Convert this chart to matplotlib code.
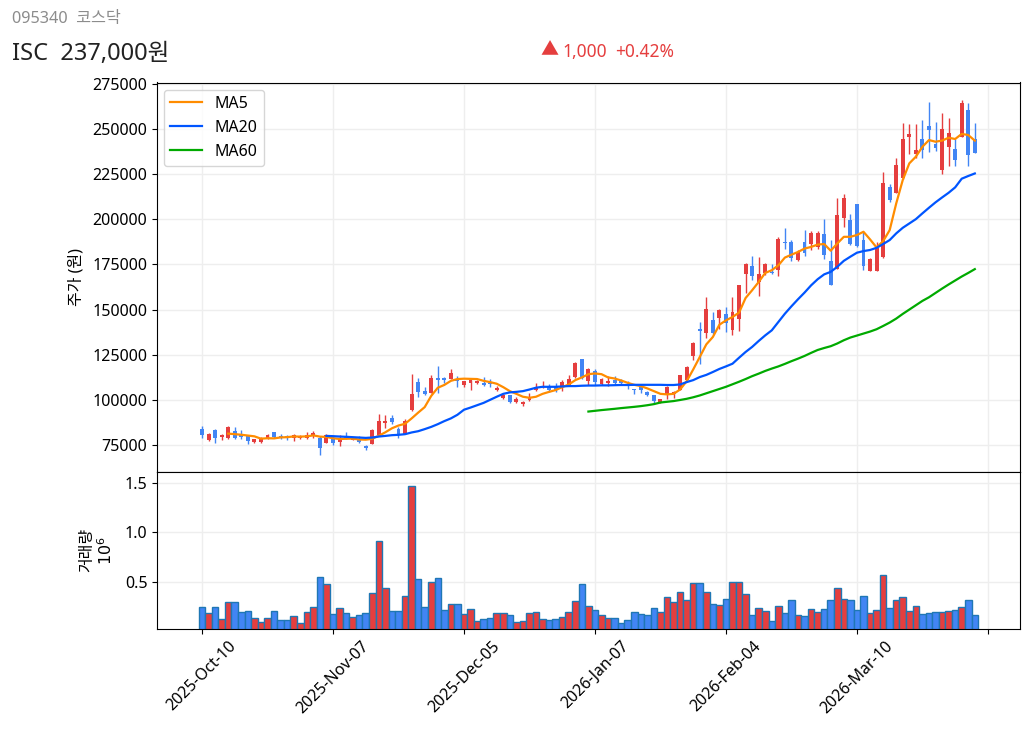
import matplotlib
matplotlib.use("Agg")
import matplotlib.pyplot as plt # plotting

plt.rcParams['font.family'] = ['Noto Sans', 'Noto Sans CJK KR', 'DejaVu Sans']

# daily prices
opens = [83950, 77800, 83400, 79500, 79100, 82650, 80400, 80000, 76700, 76700,
         79100, 82100, 79850, 79850, 79100, 78900, 79100, 79850, 79100, 76100,
         78400, 76700, 79850, 78000, 78400, 74450, 75750, 80600, 86900, 89900,
         83750, 81150, 94600, 109700, 104700, 103900, 112000, 112000, 111400, 111750,
         107950, 109050, 109050, 109400, 109400, 105700, 100750, 102400, 98700, 97600,
         99800, 105350, 107000, 107600, 107200, 107200, 108150, 112750, 122350, 110350,
         116000, 108500, 109050, 110900, 110350, 108900, 106100, 107600, 104250, 102750,
         98900, 103100, 103300, 105700, 110900, 124250, 139000, 137200, 144000, 145300,
         147700, 138500, 144600, 169700, 174300, 165300, 170500, 170800, 171900, 187600,
         187600, 177300, 187600, 186200, 184700, 191700, 176700, 172400, 200900, 199400,
         208300, 188500, 171300, 171300, 179200, 217900, 214700, 222700, 245800, 236200,
         244300, 251700, 241700, 227300, 240200, 238800, 245800, 260600, 244300]
highs = [85250, 81500, 83750, 81150, 85250, 84900, 83200, 80600, 78400, 79300,
         81150, 82100, 81150, 80600, 81150, 80600, 81900, 82650, 79850, 80800,
         79850, 80400, 81900, 79650, 79850, 74800, 83750, 92150, 91800, 91400,
         84900, 89200, 114200, 112300, 107300, 113800, 118500, 112900, 117000, 113250,
         110500, 110900, 110900, 112750, 111650, 107600, 103100, 102800, 101300, 99450,
         103900, 109400, 110150, 108700, 109400, 110900, 114000, 120900, 122700, 117700,
         116800, 112200, 113100, 113100, 111250, 110350, 106100, 108500, 105150, 102750,
         100550, 107600, 105150, 114000, 118650, 132000, 143100, 157000, 148650, 150500,
         151400, 157000, 163800, 176000, 179900, 179100, 176000, 175500, 190200, 195400,
         188800, 182800, 194300, 193600, 193600, 200400, 188800, 211600, 213800, 202700,
         208300, 193100, 178700, 187600, 226000, 219300, 233800, 253200, 252600, 252600,
         255000, 264800, 253700, 258700, 256000, 244300, 266100, 264300, 253200]
lows = [79100, 77400, 76300, 78000, 78550, 78550, 78500, 75550, 75900, 75900,
        78550, 79100, 78550, 77800, 76900, 78550, 78400, 79100, 69600, 76100,
        74800, 74250, 78550, 77600, 76300, 72200, 75750, 80600, 84300, 86750,
        79100, 81150, 93600, 101500, 102600, 103500, 103900, 109100, 111400, 107300,
        107000, 105700, 108500, 107750, 107200, 105000, 100550, 98300, 98000, 96700,
        99100, 104800, 106500, 104400, 104250, 104800, 107600, 112200, 111800, 107950,
        108100, 108100, 107600, 108300, 108900, 106100, 103300, 103900, 102000, 98300,
        98000, 100200, 101100, 105350, 110350, 122000, 120000, 134400, 136650, 139400,
        137600, 136100, 138100, 159400, 166600, 157500, 169000, 169900, 168600, 183600,
        177000, 176900, 179900, 182800, 183400, 178200, 163700, 172400, 195900, 185700,
        184800, 171700, 171300, 171300, 178300, 209700, 214400, 222100, 236200, 233800,
        233800, 237500, 238000, 224900, 229500, 229700, 245800, 229500, 236500]
closes = [80600, 81150, 79100, 80600, 84900, 79100, 79500, 76900, 78400, 78400,
          80400, 79500, 79100, 79100, 80400, 79850, 80400, 81700, 73500, 80400,
          76100, 78200, 79100, 78550, 76700, 73500, 83400, 88250, 88250, 87700,
          81150, 88250, 103000, 104300, 103000, 112300, 110800, 110800, 114700, 110250,
          110150, 110900, 110500, 108100, 108700, 106800, 102800, 98700, 100350, 98900,
          101650, 107000, 107600, 105350, 105700, 109600, 111250, 120500, 112200, 116800,
          109800, 111250, 110350, 109050, 109400, 107950, 105350, 105350, 102400, 99100,
          100200, 107000, 104400, 113500, 118300, 131650, 138100, 150500, 137000, 149600,
          142700, 148800, 163400, 175500, 168600, 169500, 175500, 170300, 188900, 186900,
          178800, 181900, 181500, 192600, 192600, 180300, 163700, 202200, 211600, 186100,
          185300, 174300, 177800, 184200, 220100, 210700, 229900, 244300, 247300, 238400,
          238400, 249500, 239500, 250000, 247600, 232800, 264300, 235600, 237000]
volumes = [0.25, 0.19, 0.25, 0.13, 0.30, 0.30, 0.20, 0.21, 0.14, 0.10,
           0.14, 0.21, 0.12, 0.12, 0.16, 0.09, 0.20, 0.25, 0.55, 0.48,
           0.18, 0.24, 0.19, 0.15, 0.17, 0.19, 0.39, 0.91, 0.44, 0.21,
           0.21, 0.36, 1.47, 0.53, 0.25, 0.50, 0.54, 0.22, 0.28, 0.28,
           0.18, 0.23, 0.11, 0.13, 0.14, 0.19, 0.19, 0.17, 0.10, 0.11,
           0.19, 0.20, 0.13, 0.12, 0.13, 0.15, 0.20, 0.31, 0.48, 0.26,
           0.22, 0.17, 0.14, 0.14, 0.09, 0.12, 0.20, 0.18, 0.17, 0.24,
           0.20, 0.35, 0.30, 0.40, 0.32, 0.49, 0.49, 0.40, 0.28, 0.27,
           0.33, 0.50, 0.50, 0.38, 0.17, 0.24, 0.21, 0.11, 0.26, 0.19,
           0.32, 0.17, 0.16, 0.23, 0.20, 0.23, 0.32, 0.44, 0.33, 0.32,
           0.22, 0.36, 0.19, 0.22, 0.57, 0.24, 0.32, 0.35, 0.21, 0.26,
           0.18, 0.19, 0.20, 0.20, 0.21, 0.22, 0.25, 0.32, 0.17]

# moving averages, first value of each sits at index 4, 19 and 59
ma5 = [81270, 80970, 80640, 80200, 79760, 78460, 78720, 78620, 79160, 79300,
       79700, 79590, 79750, 80290, 79600, 79400, 78700, 78300, 78400, 78500,
       78000, 77900, 78400, 80080, 82020, 84220, 85750, 86720, 89670, 92880,
       95940, 102170, 106680, 108240, 110500, 111500, 111700, 111600, 111500, 110500,
       109800, 108900, 107000, 104800, 103300, 101700, 101100, 101700, 103300, 104400,
       105400, 107000, 108500, 110900, 112400, 114200, 114600, 114200, 112400, 111800,
       110700, 109400, 108300, 107600, 106300, 104800, 103300, 103000, 103300, 105700,
       110300, 116800, 123700, 130700, 134800, 141600, 144000, 145900, 148300, 156400,
       160700, 165300, 170300, 171800, 174500, 178800, 180400, 181900, 183800, 184700,
       186000, 186300, 182600, 186600, 190300, 190300, 191300, 193100, 188900, 184400,
       187900, 194000, 208800, 221800, 231000, 234700, 240200, 243900, 243000, 243600,
       245200, 244500, 247300, 246700, 243600]
ma20 = [80000, 79850, 79650, 79500, 79300, 79100, 78900, 79100, 79650, 80000,
        80400, 80600, 80950, 81900, 82600, 83750, 85000, 86500, 88200, 89700,
        91700, 94500, 95700, 97000, 98300, 100000, 101700, 103300, 104100, 104400,
        104800, 105700, 106700, 107200, 107200, 107200, 107400, 107600, 107600, 107800,
        107900, 107900, 108000, 108000, 108100, 108200, 108200, 108300, 108300, 108300,
        108300, 108300, 108200, 108200, 108500, 109800, 110900, 112600, 113800, 115400,
        117100, 118500, 120000, 123300, 126500, 129300, 132600, 135700, 138500, 143100,
        147700, 151800, 155700, 159400, 163400, 166800, 169500, 170900, 173700, 177000,
        179300, 181500, 182400, 183000, 184200, 186300, 188500, 192200, 195300, 197700,
        200100, 203300, 206400, 209400, 212100, 214700, 217700, 222500, 224000, 225400]
ma60 = [93500, 93900, 94300, 94650, 95000, 95400, 95750, 96100, 96500, 97000,
        97600, 98500, 98900, 99300, 99900, 100550, 101400, 102400, 103600, 104800,
        106000, 107200, 108600, 110000, 111500, 113100, 114500, 116000, 117300, 118500,
        119900, 121400, 122800, 124300, 126000, 127600, 128700, 129700, 131200, 133000,
        134500, 135600, 136700, 137800, 139100, 140900, 142800, 145000, 147600, 150000,
        152400, 154800, 156800, 159200, 161600, 163900, 166100, 168300, 170300, 172400]

tickPositions = [0, 20, 40, 60, 80, 100, 120]
tickLabels = ['2025-Oct-10', '2025-Nov-07', '2025-Dec-05', '2026-Jan-07', '2026-Feb-04', '2026-Mar-10', '']

redColor = '#E53E3E'
blueColor = '#4285F4'
figW = 1032
figH = 733


def makeAxes(fig, top, bottom):
    # axes box from pixel rows
    return fig.add_axes([156.5 / figW, 1 - bottom / figH, (1020 - 156.5) / figW, (bottom - top) / figH])


def main():
    fig = plt.figure(figsize=(figW / 100, figH / 100), dpi=100)
    price = makeAxes(fig, 82.5, 472)
    volume = makeAxes(fig, 472, 628.5)

    days = range(len(closes))
    colors = [redColor if c >= o else blueColor for o, c in zip(opens, closes)]

    # candles
    price.vlines(days, lows, highs, colors=colors, linewidth=1, zorder=2)
    bodies = [abs(c - o) for o, c in zip(opens, closes)]
    bases = [min(o, c) for o, c in zip(opens, closes)]
    price.bar(days, bodies, 0.6, bottom=bases, color=colors, zorder=2)

    price.plot(range(4, 4 + len(ma5)), ma5, color='#FF8C00', linewidth=1.6, label='MA5', zorder=3)
    price.plot(range(19, 19 + len(ma20)), ma20, color='#0055FF', linewidth=1.6, label='MA20', zorder=3)
    price.plot(range(59, 59 + len(ma60)), ma60, color='#00AA00', linewidth=1.6, label='MA60', zorder=3)

    price.set_xlim(-6.95, 124.9)
    price.set_ylim(60000, 275800)
    price.set_yticks(range(75000, 275001, 25000))
    price.set_xticks(tickPositions)
    price.tick_params(axis='x', bottom=False, labelbottom=False)
    price.tick_params(axis='y', labelsize=11.5, pad=3)
    price.grid(True, color='#eeeeee', linewidth=1)
    price.set_axisbelow(True)
    price.set_ylabel('주가 (원)', fontsize=11.5, labelpad=6)
    price.legend(loc='upper left', fontsize=11.5, borderaxespad=0.45)

    # volume bars
    volume.bar(days, volumes, 1.0, color=colors, edgecolor='#1f77b4', linewidth=1, zorder=2)
    volume.set_xlim(-6.95, 124.9)
    volume.set_ylim(0.03, 1.61)
    volume.set_yticks([0.5, 1.0, 1.5])
    volume.set_xticks(tickPositions)
    volume.set_xticklabels(tickLabels, rotation=45, fontsize=11.5)
    volume.tick_params(axis='y', labelsize=11.5, pad=3)
    volume.grid(True, color='#eeeeee', linewidth=1)
    volume.set_axisbelow(True)
    volume.set_ylabel('거래량\n$10^6$', fontsize=11.5, labelpad=6)

    # header above the chart
    fig.text(12 / figW, 1 - 19 / figH, '095340  코스닥', color='#8c8c8c', fontsize=11.7, va='center')
    fig.text(12 / figW, 1 - 54 / figH, 'ISC  237,000원', color='#222222', fontsize=17, va='center')
    fig.text(540 / figW, 1 - 50 / figH, '▲', color=redColor, fontsize=13, va='center')
    fig.text(562 / figW, 1 - 52 / figH, '1,000', color=redColor, fontsize=12.5, va='center')
    fig.text(615 / figW, 1 - 52 / figH, '+0.42%', color=redColor, fontsize=12.5, va='center')

    fig.savefig('out.png', dpi=100)


main()
